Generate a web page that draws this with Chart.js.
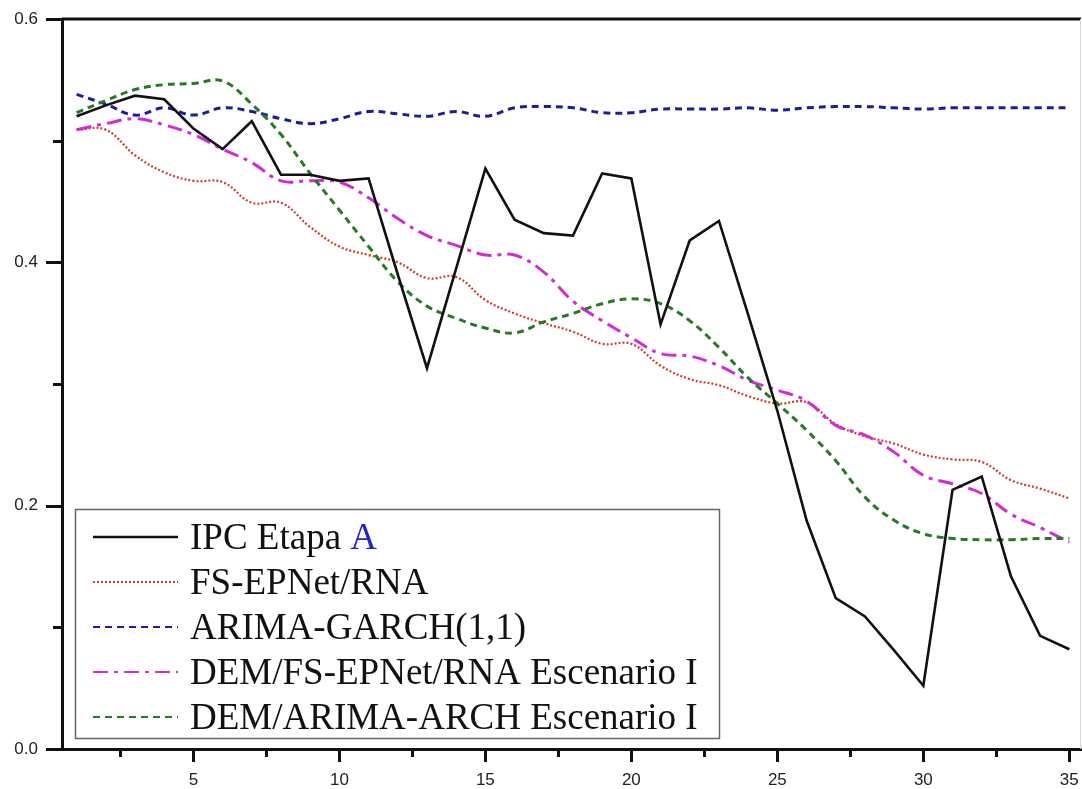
<!DOCTYPE html>
<html>
<head>
<meta charset="utf-8">
<script src="https://cdn.jsdelivr.net/npm/chart.js@4.4.0/dist/chart.umd.min.js"></script>
<style>
  html, body { margin: 0; padding: 0; background: #fff; }
  #wrap { width: 1082px; height: 789px; }
</style>
</head>
<body>
<div id="wrap"><canvas id="ipcChart" width="1082" height="789"></canvas></div>
<script>
// periods 1..35
const periods = [1, 2, 3, 4, 5, 6, 7, 8, 9, 10, 11, 12, 13, 14, 15, 16, 17, 18, 19, 20,
                 21, 22, 23, 24, 25, 26, 27, 28, 29, 30, 31, 32, 33, 34, 35];

const ipcEtapaA = [0.520, 0.529, 0.537, 0.534, 0.510, 0.493, 0.516, 0.472, 0.472, 0.467,
                   0.469, 0.390, 0.313, 0.395, 0.477, 0.435, 0.424, 0.422, 0.473, 0.469,
                   0.349, 0.418, 0.434, 0.357, 0.278, 0.188, 0.124, 0.109, 0.081, 0.052,
                   0.213, 0.224, 0.142, 0.093, 0.082];

const fsEpnetRna = [0.509, 0.509, 0.488, 0.474, 0.467, 0.466, 0.449, 0.449, 0.429, 0.413,
                    0.406, 0.400, 0.387, 0.388, 0.369, 0.358, 0.350, 0.343, 0.333, 0.333,
                    0.315, 0.304, 0.299, 0.290, 0.284, 0.285, 0.267, 0.257, 0.251, 0.242,
                    0.238, 0.236, 0.221, 0.214, 0.206];

const arimaGarch = [0.538, 0.530, 0.521, 0.527, 0.521, 0.527, 0.524, 0.518, 0.514, 0.518,
                    0.524, 0.522, 0.520, 0.524, 0.520, 0.527, 0.528, 0.527, 0.523, 0.523,
                    0.526, 0.526, 0.526, 0.527, 0.525, 0.527, 0.528, 0.528, 0.527, 0.526,
                    0.527, 0.527, 0.527, 0.527, 0.527];

const demFsEpnet = [0.509, 0.514, 0.518, 0.513, 0.505, 0.493, 0.482, 0.467, 0.467, 0.466,
                    0.453, 0.436, 0.422, 0.414, 0.406, 0.406, 0.392, 0.368, 0.352, 0.338,
                    0.325, 0.323, 0.315, 0.303, 0.295, 0.286, 0.266, 0.258, 0.244, 0.225,
                    0.218, 0.210, 0.193, 0.182, 0.170];

const demArimaArch = [0.523, 0.533, 0.542, 0.546, 0.547, 0.549, 0.530, 0.505, 0.473, 0.443,
                      0.413, 0.384, 0.364, 0.354, 0.346, 0.342, 0.351, 0.358, 0.366, 0.370,
                      0.366, 0.352, 0.330, 0.305, 0.284, 0.262, 0.237, 0.207, 0.188, 0.177,
                      0.173, 0.172, 0.172, 0.173, 0.173];

const seriesNames = ['IPC Etapa ', 'FS-EPNet/RNA', 'ARIMA-GARCH(1,1)',
                     'DEM/FS-EPNet/RNA Escenario I', 'DEM/ARIMA-ARCH Escenario I'];

const yTicks = [0, 0.1, 0.2, 0.3, 0.4, 0.5, 0.6];
const xTicks = [2.5, 5, 7.5, 10, 12.5, 15, 17.5, 20, 22.5, 25, 27.5, 30, 32.5, 35];

function toPoints(values) {
    return values.map((v, i) => ({ x: periods[i], y: v }));
}

// axis ticks (long on labelled values, short in between), top frame line
const frameTicks = {
    id: 'frameTicks',
    afterDraw(chart) {
        const ctx = chart.ctx;
        const area = chart.chartArea;
        const xs = chart.scales.x;
        const ys = chart.scales.y;
        ctx.save();
        ctx.strokeStyle = '#111';
        ctx.lineWidth = 3;
        ctx.lineCap = 'butt';

        yTicks.forEach(v => {
            const y = Math.round(ys.getPixelForValue(v)) + 0.5;
            const major = Math.round(v * 10) % 2 === 0;
            const len = major ? 16 : 9;
            ctx.beginPath();
            ctx.moveTo(area.left - len, y);
            ctx.lineTo(area.left, y);
            ctx.stroke();
        });

        xTicks.forEach(v => {
            const x = Math.round(xs.getPixelForValue(v)) + 0.5;
            const major = v % 5 === 0;
            const len = major ? 13 : 8;
            ctx.beginPath();
            ctx.moveTo(x, area.bottom);
            ctx.lineTo(x, area.bottom + len);
            ctx.stroke();
        });

        // top frame
        ctx.lineWidth = 3;
        ctx.beginPath();
        ctx.moveTo(area.left, area.top);
        ctx.lineTo(area.right, area.top);
        ctx.stroke();

        // faint right edge
        ctx.strokeStyle = '#d8d8d8';
        ctx.lineWidth = 1;
        ctx.beginPath();
        ctx.moveTo(area.right - 0.5, area.top);
        ctx.lineTo(area.right - 0.5, area.bottom);
        ctx.stroke();
        ctx.restore();
    }
};

// legend box drawn inside the plot, serif text, blue "A" after the first label
const boxLegend = {
    id: 'boxLegend',
    afterDraw(chart) {
        const ctx = chart.ctx;
        const left = 75, top = 509, right = 719, bottom = 738;
        const rowY = [537, 582, 627, 672, 717];
        ctx.save();
        ctx.fillStyle = '#fff';
        ctx.fillRect(left, top, right - left, bottom - top);
        ctx.strokeStyle = '#666';
        ctx.lineWidth = 1.5;
        ctx.strokeRect(left + 0.5, top + 0.5, right - left, bottom - top);

        ctx.font = '37px "Liberation Serif", "Times New Roman", serif';
        ctx.textBaseline = 'middle';
        ctx.textAlign = 'left';
        chart.data.datasets.forEach((ds, i) => {
            const y = rowY[i];
            ctx.beginPath();
            ctx.setLineDash(ds.borderDash || []);
            ctx.strokeStyle = ds.borderColor;
            ctx.lineWidth = i === 0 ? 2.5 : 2;
            ctx.moveTo(93, y);
            ctx.lineTo(178, y);
            ctx.stroke();
            ctx.setLineDash([]);

            ctx.fillStyle = '#111';
            ctx.fillText(seriesNames[i], 190, y + 2);
            if (i === 0) {
                const w = ctx.measureText(seriesNames[i]).width;
                ctx.fillStyle = '#2424c8';
                ctx.fillText('A', 190 + w, y + 2);
            }
        });
        ctx.restore();
    }
};

// keep edge tick labels from shrinking the plot area
function noEdgePadding(scale) {
    scale.paddingTop = 0;
    scale.paddingBottom = 0;
    scale.paddingLeft = 0;
    scale.paddingRight = 0;
}

const ctx = document.getElementById('ipcChart').getContext('2d');

const ipcChart = new Chart(ctx, {
    type: 'line',
    data: {
        datasets: [
            {
                label: seriesNames[0] + 'A',
                data: toPoints(ipcEtapaA),
                borderColor: '#111111',
                borderWidth: 2.6,
                borderDash: [],
                tension: 0,
                order: 0
            },
            {
                label: seriesNames[1],
                data: toPoints(fsEpnetRna),
                borderColor: '#d23a2a',
                borderWidth: 2.2,
                borderDash: [2, 2],
                tension: 0.4,
                order: 4
            },
            {
                label: seriesNames[2],
                data: toPoints(arimaGarch),
                borderColor: '#1c1c9c',
                borderWidth: 3,
                borderDash: [7, 5],
                tension: 0.4,
                order: 3
            },
            {
                label: seriesNames[3],
                data: toPoints(demFsEpnet),
                borderColor: '#d42ad4',
                borderWidth: 3,
                borderDash: [15, 6, 4, 6],
                tension: 0.4,
                order: 2
            },
            {
                label: seriesNames[4],
                data: toPoints(demArimaArch),
                borderColor: '#267a26',
                borderWidth: 3,
                borderDash: [7, 5],
                tension: 0.4,
                order: 1
            }
        ]
    },
    options: {
        responsive: false,
        animation: false,
        layout: { padding: { top: 19, right: 1, left: 0, bottom: 0 } },
        elements: {
            point: { radius: 0 }
        },
        scales: {
            x: {
                type: 'linear',
                min: 0.5,
                max: 35.4,
                afterFit: scale => { scale.height = 40; noEdgePadding(scale); },
                afterBuildTicks: scale => {
                    scale.ticks = xTicks.map(v => ({ value: v }));
                },
                grid: { display: false, drawTicks: false },
                border: { display: true, color: '#111', width: 3 },
                ticks: {
                    autoSkip: false,
                    maxRotation: 0,
                    padding: 21,
                    color: '#222',
                    font: { family: '"Liberation Sans", Arial, sans-serif', size: 17 },
                    callback: value => (value % 5 === 0 ? String(value) : '')
                }
            },
            y: {
                type: 'linear',
                min: 0,
                max: 0.6,
                afterFit: scale => { scale.width = 62; noEdgePadding(scale); },
                afterBuildTicks: scale => {
                    scale.ticks = yTicks.map(v => ({ value: v }));
                },
                grid: { display: false, drawTicks: false },
                border: { display: true, color: '#111', width: 3 },
                ticks: {
                    autoSkip: false,
                    padding: 24,
                    color: '#222',
                    font: { family: '"Liberation Sans", Arial, sans-serif', size: 17 },
                    callback: value => (Math.round(value * 10) % 2 === 0 ? value.toFixed(1) : '')
                }
            }
        },
        plugins: {
            legend: { display: false },
            tooltip: { enabled: false }
        }
    },
    plugins: [frameTicks, boxLegend]
});
</script>
</body>
</html>
